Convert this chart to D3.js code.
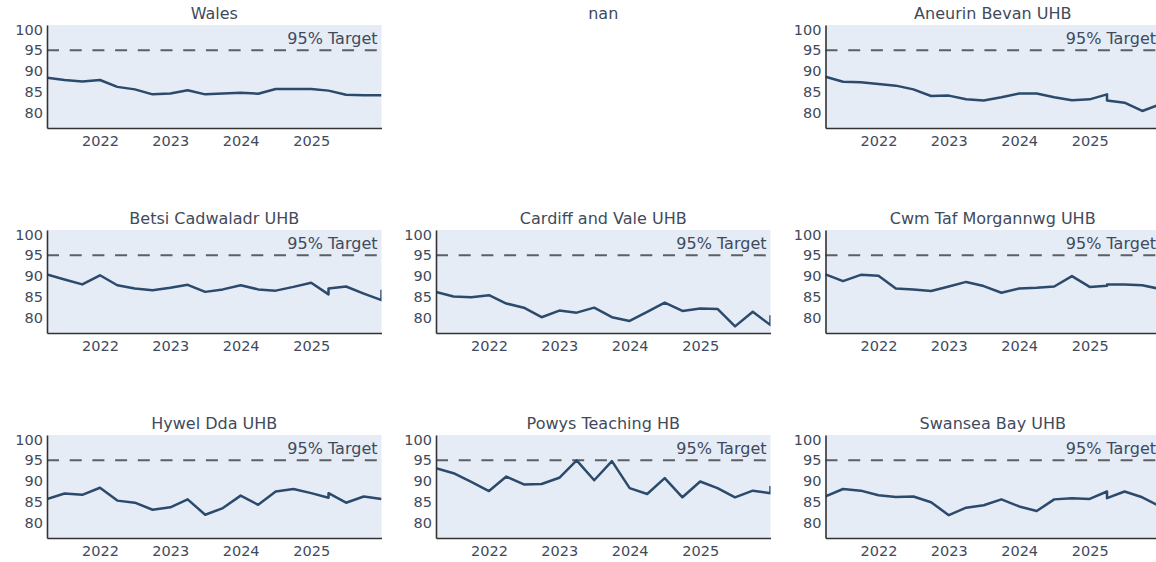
<!DOCTYPE html>
<html>
<head>
<meta charset="utf-8">
<script src="https://cdn.jsdelivr.net/npm/d3@7"></script>
<style>
  body { margin: 0; background: #fff; }
  svg text { font-family: "DejaVu Sans", Verdana, sans-serif; fill: #3f4a5c; }
</style>
</head>
<body>
<div id="app"></div>
<script>
// quarterly dates (Apr 2025 and Jan 2026 appear twice in the source data)
const quarters = [
  "2021-04-01", "2021-07-01", "2021-10-01",
  "2022-01-01", "2022-04-01", "2022-07-01", "2022-10-01",
  "2023-01-01", "2023-04-01", "2023-07-01", "2023-10-01",
  "2024-01-01", "2024-04-01", "2024-07-01", "2024-10-01",
  "2025-01-01", "2025-04-01", "2025-04-01", "2025-07-01", "2025-10-01",
  "2026-01-01", "2026-01-01"
];

const regionNames = [
  "Wales", "nan", "Aneurin Bevan UHB",
  "Betsi Cadwaladr UHB", "Cardiff and Vale UHB", "Cwm Taf Morgannwg UHB",
  "Hywel Dda UHB", "Powys Teaching HB", "Swansea Bay UHB"
];

const wales        = [88.4, 87.85, 87.5, 87.85, 86.2, 85.6, 84.4, 84.6, 85.4, 84.4, 84.6, 84.8, 84.55, 85.7, 85.7, 85.7, 85.3, 85.3, 84.3, 84.2, 84.2, 84.2];
const aneurinBevan = [88.65, 87.45, 87.3, 86.9, 86.5, 85.6, 84.0, 84.1, 83.2, 82.9, 83.7, 84.6, 84.6, 83.7, 83.0, 83.2, 84.4, 82.9, 82.4, 80.4, 82.0, 82.0];
const betsi        = [90.4, 89.2, 88.0, 90.2, 87.8, 87.0, 86.6, 87.2, 87.9, 86.2, 86.8, 87.8, 86.8, 86.5, 87.4, 88.4, 85.6, 87.0, 87.5, 85.8, 84.2, 86.7];
const cardiffVale  = [86.2, 85.1, 84.9, 85.4, 83.4, 82.4, 80.1, 81.7, 81.2, 82.4, 80.1, 79.2, 81.4, 83.6, 81.6, 82.2, 82.1, 82.1, 77.9, 81.4, 78.2, 80.6];
const cwmTaf       = [90.4, 88.8, 90.3, 90.1, 87.0, 86.8, 86.4, 87.5, 88.6, 87.6, 86.0, 87.0, 87.2, 87.5, 90.0, 87.4, 87.7, 88.0, 88.0, 87.8, 86.9, 86.9];
const hywelDda     = [85.7, 87.0, 86.7, 88.4, 85.3, 84.8, 83.1, 83.7, 85.6, 81.9, 83.5, 86.5, 84.3, 87.5, 88.1, 87.1, 86.0, 87.1, 84.8, 86.3, 85.7, 85.7];
const powys        = [93.1, 91.9, 89.8, 87.6, 91.1, 89.2, 89.3, 90.8, 95.0, 90.2, 94.8, 88.3, 86.9, 90.7, 86.1, 89.9, 88.3, 88.3, 86.1, 87.7, 87.1, 88.8];
const swanseaBay   = [86.3, 88.1, 87.7, 86.6, 86.2, 86.3, 84.9, 81.8, 83.6, 84.2, 85.6, 83.9, 82.8, 85.6, 85.9, 85.7, 87.5, 85.9, 87.5, 86.1, 83.9, 83.9];

const yTicks = [80, 85, 90, 95, 100];
const xTicks = ["2022-01-01", "2023-01-01", "2024-01-01", "2025-01-01"];
const target = 95;
const targetLabel = "95% Target";

const seriesList = [wales, null, aneurinBevan, betsi, cardiffVale, cwmTaf, hywelDda, powys, swanseaBay];

const w = 1156,
      h = 562;

const colLeft = [47, 436, 825.5],
      rowTop = [25, 230, 435],
      pw = 334.5,
      ph = 103;

const parse = d3.timeParse("%Y-%m-%d");
const dates = quarters.map(parse);

const svg = d3.select("#app")
  .append("svg")
  .attr("width", w)
  .attr("height", h);

const xScale = d3.scaleTime()
  .domain([parse("2021-04-01"), parse("2026-01-01")])
  .range([0, pw]);

const yScale = d3.scaleLinear()
  .domain([76.3, 101.1])
  .range([ph, 0]);

const line = d3.line()
  .x((d, i) => xScale(dates[i]))
  .y(d => yScale(d));

regionNames.forEach((name, idx) => {
  const col = idx % 3,
        row = Math.floor(idx / 3);
  const g = svg.append("g")
    .attr("transform", `translate(${colLeft[col]}, ${rowTop[row]})`);

  // subplot title
  g.append("text")
    .attr("x", pw / 2)
    .attr("y", -6)
    .attr("text-anchor", "middle")
    .attr("font-size", 16)
    .text(name);

  const values = seriesList[idx];
  if (!values) return;

  g.append("rect")
    .attr("width", pw)
    .attr("height", ph)
    .attr("fill", "#e5ecf6");

  const clipId = "clip" + idx;
  g.append("clipPath")
    .attr("id", clipId)
    .append("rect")
    .attr("width", pw)
    .attr("height", ph);

  // target line
  g.append("line")
    .attr("x1", 0)
    .attr("x2", pw)
    .attr("y1", yScale(target))
    .attr("y2", yScale(target))
    .attr("stroke", "#5b5f66")
    .attr("stroke-width", 2)
    .attr("stroke-dasharray", "12,10.7");

  g.append("text")
    .attr("x", pw - 4)
    .attr("y", yScale(target) - 6)
    .attr("text-anchor", "end")
    .attr("font-size", 16)
    .text(targetLabel);

  g.append("path")
    .datum(values)
    .attr("clip-path", `url(#${clipId})`)
    .attr("d", line)
    .attr("fill", "none")
    .attr("stroke", "#2b4a6c")
    .attr("stroke-width", 2.5)
    .attr("stroke-linejoin", "round");

  // axes
  const xAxis = d3.axisBottom(xScale)
    .tickValues(xTicks.map(parse))
    .tickFormat(d3.timeFormat("%Y"))
    .tickSize(0)
    .tickPadding(8);

  const yAxis = d3.axisLeft(yScale)
    .tickValues(yTicks)
    .tickSize(0)
    .tickPadding(4);

  const gx = g.append("g")
    .attr("transform", `translate(0, ${ph})`)
    .call(xAxis);
  gx.selectAll("text").attr("font-size", 14.5).attr("fill", null);

  const gy = g.append("g").call(yAxis);
  gy.selectAll("text").attr("font-size", 14.5).attr("fill", null);

  [gx, gy].forEach(a => a.select(".domain")
    .attr("stroke", "#333")
    .attr("stroke-width", 1.6));
});
</script>
</body>
</html>
